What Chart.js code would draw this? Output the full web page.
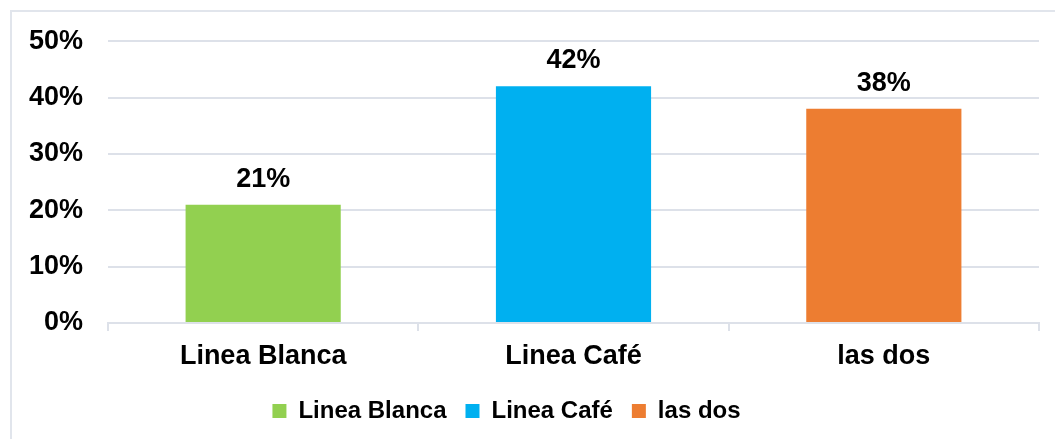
<!DOCTYPE html>
<html>
<head>
<meta charset="utf-8">
<script src="https://cdn.jsdelivr.net/npm/chart.js@4/dist/chart.umd.min.js"></script>
<style>
  html, body { margin: 0; padding: 0; background: #ffffff; }
  #wrap { width: 1055px; height: 439px; position: relative; }
</style>
</head>
<body>
<div id="wrap"><canvas id="c" width="1055" height="439"></canvas></div>
<script>
const categories = ['Linea Blanca', 'Linea Café', 'las dos'];
const values = [21, 42, 38];
const colors = ['#92D050', '#00B0F0', '#ED7D31'];
const yTicks = [0, 10, 20, 30, 40, 50];

const FONT = "'Liberation Sans', Arial, Helvetica, sans-serif";
const GRID = '#dde1e9';

const datasets = categories.map((name, i) => ({
  label: name,
  data: categories.map((_, j) => (j === i ? values[i] : null)),
  backgroundColor: colors[i],
  borderWidth: 0,
  barPercentage: 0.5,
  categoryPercentage: 1.0,
  skipNull: true
}));

const frame = {
  id: 'frame',
  beforeDraw(chart) {
    const ctx = chart.ctx;
    ctx.save();
    ctx.strokeStyle = '#e1e5ec';
    ctx.lineWidth = 2;
    ctx.strokeRect(11, 11, 1200, 600);
    ctx.restore();
  }
};

const valueLabels = {
  id: 'valueLabels',
  afterDatasetsDraw(chart) {
    const ctx = chart.ctx;
    ctx.save();
    ctx.font = "bold 27px " + FONT;
    ctx.fillStyle = '#000000';
    ctx.textAlign = 'center';
    ctx.textBaseline = 'alphabetic';
    chart.data.datasets.forEach((ds, di) => {
      const meta = chart.getDatasetMeta(di);
      meta.data.forEach((bar, j) => {
        const v = ds.data[j];
        if (v === null || v === undefined) return;
        ctx.fillText(v + '%', bar.x, bar.y - 18);
      });
    });
    ctx.restore();
  }
};

const legendShift = {
  id: 'legendShift',
  afterLayout(chart) {
    if (chart.legend) {
      chart.legend.left -= 13;
      chart.legend.right -= 13;
    }
  }
};

new Chart(document.getElementById('c'), {
  type: 'bar',
  data: { labels: categories, datasets: datasets },
  options: {
    responsive: false,
    animation: false,
    layout: { padding: { top: 40, right: 16, bottom: 6, left: 0 } },
    plugins: {
      legend: {
        position: 'bottom',
        labels: {
          boxWidth: 14,
          boxHeight: 14,
          padding: 19,
          color: '#000000',
          font: { family: FONT, size: 24, weight: 'bold' }
        }
      },
      tooltip: { enabled: false }
    },
    scales: {
      x: {
        offset: true,
        grid: {
          offset: true,
          drawOnChartArea: false,
          drawTicks: true,
          tickLength: 8,
          color: GRID,
          lineWidth: 2
        },
        border: { display: true, color: GRID, width: 2 },
        ticks: {
          padding: 9,
          color: '#000000',
          font: { family: FONT, size: 27, weight: 'bold' }
        },
        afterFit(scale) { scale.height = 57; }
      },
      y: {
        min: 0,
        max: 50,
        afterBuildTicks(scale) { scale.ticks = yTicks.map(v => ({ value: v })); },
        grid: { drawTicks: false, color: GRID, lineWidth: 2 },
        border: { display: false },
        ticks: {
          padding: 25,
          color: '#000000',
          font: { family: FONT, size: 27, weight: 'bold' },
          callback: (v) => v + '%'
        },
        afterFit(scale) { scale.width = 108; }
      }
    }
  },
  plugins: [frame, valueLabels, legendShift]
});
</script>
</body>
</html>
